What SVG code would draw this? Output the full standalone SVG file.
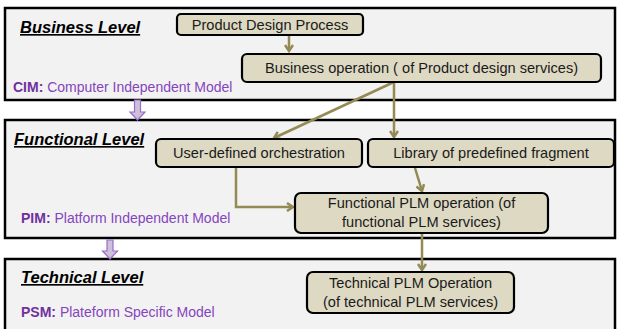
<svg xmlns="http://www.w3.org/2000/svg" width="617" height="329" viewBox="0 0 617 329">
<defs>
<style>
.panel{fill:#f2f2f2;stroke:#000;stroke-width:2.5}
.node rect{fill:#ddd9c3;stroke:#000;stroke-width:2.2}
.node text{font-family:"Liberation Sans",Arial,sans-serif;font-size:14.6px;fill:#1a1a1a;text-anchor:middle}
.title{font-family:"Liberation Sans",Arial,sans-serif;font-size:16.5px;font-weight:bold;font-style:italic;text-decoration:underline;fill:#000}
.model{font-family:"Liberation Sans",Arial,sans-serif;font-size:14px;fill:#8545bd}
.model tspan.b{font-weight:bold;fill:#7030a0}
.conn{fill:none;stroke:#948a54;stroke-width:2.5}
.parrow{fill:#ccc0da;stroke:#9a6cc9;stroke-width:1.2}
</style>
<marker id="ah" markerWidth="10" markerHeight="10" refX="7" refY="5" orient="auto" markerUnits="userSpaceOnUse">
<path d="M1,1 L7,5 L1,9" fill="none" stroke="#948a54" stroke-width="2.5"/>
</marker>
</defs>
<g id="panels">
<rect class="panel" x="5" y="8" width="610" height="92"/>
<rect class="panel" x="5" y="120" width="610" height="118"/>
<rect class="panel" x="5" y="259" width="610" height="80"/>
</g>
<g id="level-arrows">
<path class="parrow" d="M134.5,100 H140.5 V112 H145 L137.5,120 L130,112 H134.5 Z"/>
<path class="parrow" d="M107,240 H113 V251 H117.5 L110,259 L102.5,251 H107 Z"/>
</g>
<g id="labels">
<text class="title" x="20" y="33">Business Level</text>
<text class="model" x="13" y="92"><tspan class="b">CIM:</tspan> Computer Independent Model</text>
<text class="title" x="14" y="145">Functional Level</text>
<text class="model" x="21" y="223"><tspan class="b">PIM:</tspan> Platform Independent Model</text>
<text class="title" x="21" y="283">Technical Level</text>
<text class="model" x="21" y="317"><tspan class="b">PSM:</tspan> Plateform Specific Model</text>
</g>
<g id="connectors">
<path class="conn" d="M289,35 V51" marker-end="url(#ah)"/>
<path class="conn" d="M394,82 V137" marker-end="url(#ah)"/>
<path class="conn" d="M394,82 L274,138" marker-end="url(#ah)"/>
<path class="conn" d="M236,167 V207 H293" marker-end="url(#ah)"/>
<path class="conn" d="M415,168 L422,191" marker-end="url(#ah)"/>
<path class="conn" d="M422,234 V270" marker-end="url(#ah)"/>
</g>
<g id="n-pdp" class="node">
<rect x="177" y="14" width="186" height="21" rx="4"/>
<text x="270" y="29.5">Product Design Process</text>
</g>
<g id="n-bo" class="node">
<rect x="242" y="54" width="359" height="28" rx="5"/>
<text x="421.5" y="73">Business operation ( of Product design services)</text>
</g>
<g id="n-udo" class="node">
<rect x="156" y="139" width="206" height="28" rx="5"/>
<text x="259" y="158">User-defined orchestration</text>
</g>
<g id="n-lib" class="node">
<rect x="368" y="139" width="246" height="28" rx="5"/>
<text x="491" y="158">Library of predefined fragment</text>
</g>
<g id="n-func" class="node">
<rect x="295" y="193" width="253" height="40" rx="6"/>
<text x="421.5" y="208">Functional PLM operation (of</text>
<text x="421.5" y="227">functional PLM services)</text>
</g>
<g id="n-tech" class="node">
<rect x="307" y="272" width="207" height="41" rx="6"/>
<text x="410.5" y="288">Technical PLM Operation</text>
<text x="410.5" y="307">(of technical PLM services)</text>
</g>
</svg>
